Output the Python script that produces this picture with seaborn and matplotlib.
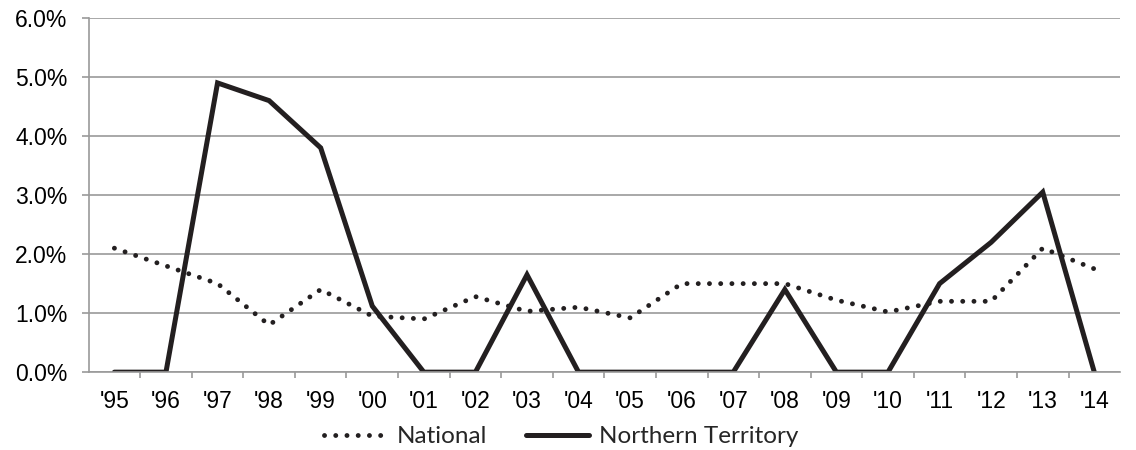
import pandas as pd
import numpy as np
import matplotlib
matplotlib.use('Agg')
import matplotlib.pyplot as plt
import seaborn as sns
from matplotlib.ticker import FuncFormatter, FixedLocator

# Data (percent)
years = ["'95", "'96", "'97", "'98", "'99", "'00", "'01", "'02", "'03", "'04",
         "'05", "'06", "'07", "'08", "'09", "'10", "'11", "'12", "'13", "'14"]
national = [2.1, 1.8, 1.5, 0.8, 1.4, 0.95, 0.9, 1.28, 1.03, 1.1,
            0.92, 1.5, 1.5, 1.5, 1.22, 1.02, 1.2, 1.2, 2.1, 1.75]
northern_territory = [0.0, 0.0, 4.9, 4.6, 3.8, 1.12, 0.0, 0.0, 1.65, 0.0,
                      0.0, 0.0, 0.0, 1.4, 0.0, 0.0, 1.5, 2.2, 3.05, 0.0]

df = pd.DataFrame({
    'idx': list(range(len(years))) * 2,
    'value': national + northern_territory,
    'series': ['National'] * len(years) + ['Northern Territory'] * len(years),
})

sns.set_style('white')
plt.rcParams['font.family'] = ['Liberation Sans', 'DejaVu Sans']

fig = plt.figure(figsize=(11.36, 4.5), dpi=100)
ax = fig.add_axes([0.078, 0.173, 0.908, 0.787])

ink = '#231f20'
grey = '#9a9a9a'

sns.lineplot(data=df[df.series == 'National'], x='idx', y='value', ax=ax,
             color=ink, linewidth=3.5, linestyle=(0, (0.01, 2.3)),
             dash_capstyle='round', label='National')
sns.lineplot(data=df[df.series == 'Northern Territory'], x='idx', y='value', ax=ax,
             color=ink, linewidth=3.6, solid_joinstyle='miter',
             label='Northern Territory')

ax.set_xlim(-0.5, len(years) - 0.5)
ax.set_ylim(0, 6)
ax.set_yticks(np.arange(0, 6.5, 1))
ax.yaxis.set_major_formatter(FuncFormatter(lambda v, p: f'{v:.1f}%'))
ax.set_xticks(range(len(years)))
ax.set_xticklabels(years)
ax.xaxis.set_minor_locator(FixedLocator(np.arange(0.5, len(years) - 0.5, 1)))

ax.grid(axis='y', color=grey, linewidth=1.2)
ax.set_axisbelow(True)
for s in ['top', 'right']:
    ax.spines[s].set_visible(False)
for s in ['left', 'bottom']:
    ax.spines[s].set_color(grey)
    ax.spines[s].set_linewidth(1.2)

ax.tick_params(axis='y', which='major', left=True, length=4.8, width=1.2, color=grey,
               labelsize=16.5, pad=10.5, labelcolor='black')
ax.tick_params(axis='x', which='major', bottom=False, labelsize=16.5, pad=9,
               labelcolor='black')
ax.tick_params(axis='x', which='minor', bottom=True, length=4.5, width=1.2, color=grey)
for lab in ax.get_xticklabels() + ax.get_yticklabels():
    lab.set_fontfamily(['Liberation Sans', 'DejaVu Sans'])

ax.set_xlabel('')
ax.set_ylabel('')

ax.legend(loc='center', bbox_to_anchor=(0.494, 0.03), bbox_transform=fig.transFigure,
          ncol=2, frameon=False, handlelength=2.6, handletextpad=0.4,
          columnspacing=1.6, prop={'family': 'Lato', 'size': 17.5})

fig.savefig('out.png', dpi=100)
